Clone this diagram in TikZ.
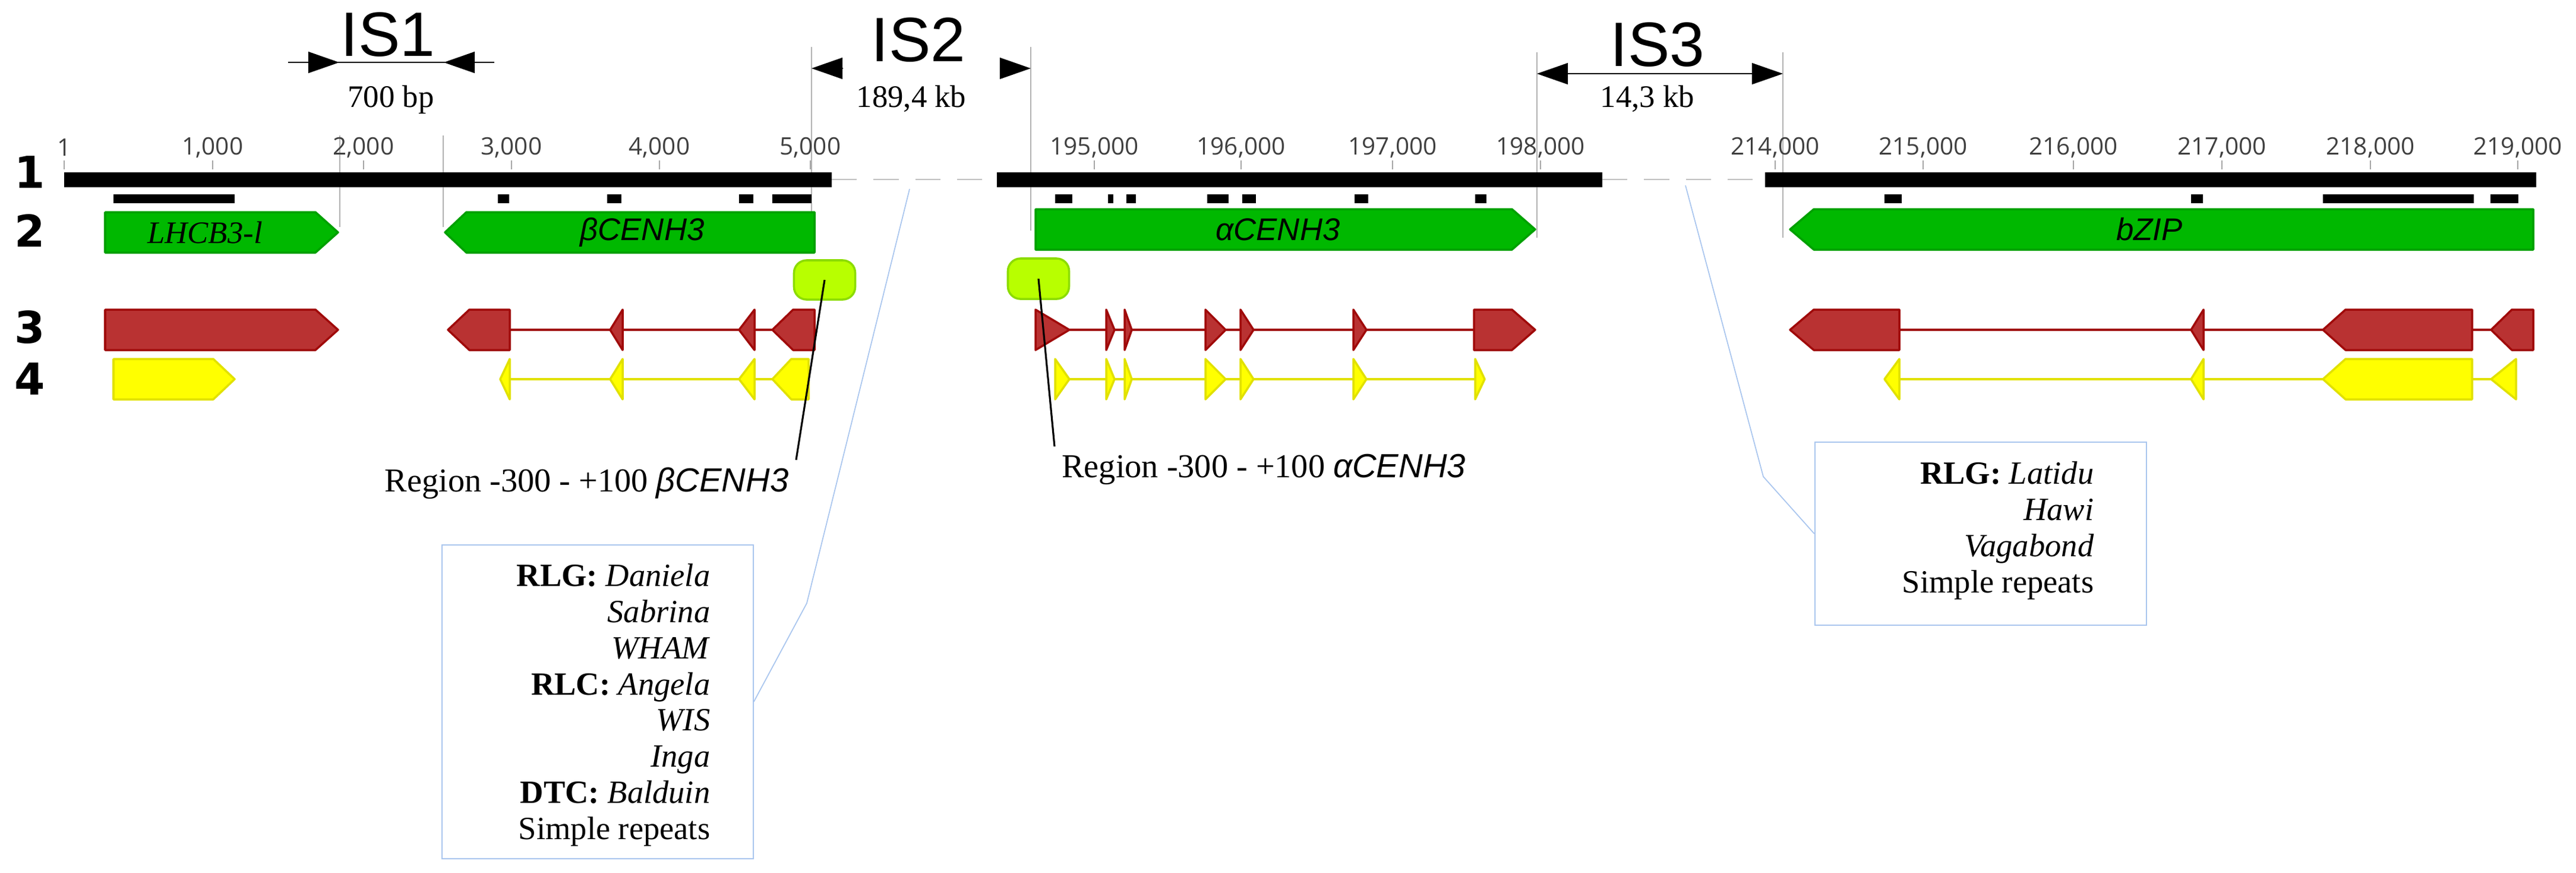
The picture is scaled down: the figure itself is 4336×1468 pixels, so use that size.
\documentclass[tikz,border=0pt]{standalone}
\usepackage{fontspec}
\setmainfont{Liberation Serif}
\setsansfont{Liberation Sans}
\newfontfamily\tickfont{Open Sans}
\newfontfamily\rowfont{DejaVu Sans}
\usetikzlibrary{arrows.meta}

\definecolor{genegreen}{RGB}{0,184,0}
\definecolor{geneedge}{RGB}{0,160,0}
\definecolor{exonred}{RGB}{185,50,50}
\definecolor{exonedge}{RGB}{160,10,10}
\definecolor{cdsyellow}{RGB}{255,255,0}
\definecolor{cdsedge}{RGB}{225,225,0}
\definecolor{promfill}{RGB}{184,255,0}
\definecolor{promedge}{RGB}{140,220,0}
\definecolor{leaderblue}{RGB}{170,198,238}

% feature outline: flat end, shoulder, tip, centre y, style
\newcommand{\feat}[5]{\draw[#5] (#1,#4-34) -- (#2,#4-34) -- (#3,#4) -- (#2,#4+34) -- (#1,#4+34) -- cycle;}

\begin{document}
\begin{tikzpicture}[
    x=0.01cm, y=-0.01cm,
    gene/.style={fill=genegreen, draw=geneedge, line width=1pt, line join=round},
    exon/.style={fill=exonred, draw=exonedge, line width=1pt, line join=round},
    cds/.style={fill=cdsyellow, draw=cdsedge, line width=1pt, line join=round},
    intronred/.style={draw=exonedge, line width=1.3pt},
    intronyel/.style={draw=cdsedge, line width=1.3pt},
    guide/.style={draw=gray!60, line width=0.4pt},
    isarrow/.style={-{Triangle[length=14.8pt,width=10.2pt]}, line width=0.5pt},
    leader/.style={draw=leaderblue, line width=0.5pt},
    infobox/.style={draw=leaderblue, line width=0.6pt, inner sep=0pt},
    infotext/.style={align=right, inner sep=0pt, font=\fontsize{15.5}{17.3}\selectfont},
    genelabel/.style={font=\sffamily\itshape\fontsize{15}{15}\selectfont},
    tick/.style={font=\tickfont\fontsize{11.5}{12}\selectfont, text=black!75},
    rownum/.style={font=\rowfont\bfseries\fontsize{21}{21}\selectfont},
    islabel/.style={font=\sffamily\fontsize{30}{30}\selectfont},
    dist/.style={font=\fontsize{15}{15}\selectfont}
]
    \useasboundingbox (0,0) rectangle (4336,1468);

    % guide lines of the intergenic spaces
    \draw[guide] (572,228) -- (572,382);
    \draw[guide] (746,228) -- (746,382);
    \draw[guide] (1366,79) -- (1366,382);
    \draw[guide] (1735,79) -- (1735,388);
    \draw[guide] (2587,88) -- (2587,400);
    \draw[guide] (3001,88) -- (3001,400);

    % intergenic spaces
    \node[islabel] (is1) at (653,58) {IS1};
    \node[islabel] (is2) at (1546,67) {IS2};
    \node[islabel] (is3) at (2790,75) {IS3};
    \node[dist] (d1) at (658,168) {700 bp};
    \node[dist] (d2) at (1534,166) {189,4 kb};
    \node[dist] (d3) at (2773,166) {14,3 kb};
    \draw[line width=0.5pt] (485,105) -- (832,105);
    \draw[isarrow] (485,105) -- (571,105);
    \draw[isarrow] (832,105) -- (747,105);
    \draw[isarrow] (1419,115) -- (1366,115);
    \draw[isarrow] (1684,115) -- (1735,115);
    \draw[isarrow, {Triangle[length=14.8pt,width=10.2pt]}-{Triangle[length=14.8pt,width=10.2pt]}] (2587,124) -- (3001,124);

    % row numbers
    \node[rownum] (r1) at (50,290) {1};
    \node[rownum] (r2) at (50,388) {2};
    \node[rownum] (r3) at (50,551) {3};
    \node[rownum] (r4) at (50,638) {4};

    % sequence bar and scale
    \draw[gray!50, dash pattern=on 12pt off 8pt, line width=0.8pt] (1400,302) -- (1678,302);
    \draw[gray!50, dash pattern=on 12pt off 8pt, line width=0.8pt] (2697,302) -- (2971,302);
    \fill[black] (108,290) rectangle (1400,315);
    \fill[black] (1678,290) rectangle (2697,315);
    \fill[black] (2971,290) rectangle (4269,315);
    \foreach \x/\lab in {108/1, 358/{1,000}, 612/{2,000}, 861/{3,000}, 1110/{4,000}, 1364/{5,000},
        1842/{195,000}, 2089/{196,000}, 2344/{197,000}, 2593/{198,000},
        2988/{214,000}, 3237/{215,000}, 3490/{216,000}, 3740/{217,000}, 3990/{218,000}, 4238/{219,000}} {
        \draw[gray!70, line width=0.6pt] (\x,270) -- (\x,285);
        \node[tick] (t\x) at (\x,248) {\lab};
    }

    % repeat hits
    \foreach \a/\b in {191/395, 838/857, 1022/1046, 1244/1268, 1300/1366,
        1776/1805, 1865/1874, 1896/1912, 2032/2068, 2091/2114, 2280/2303, 2483/2502,
        3172/3201, 3688/3708, 3910/4164, 4192/4239}
        {\fill[black] (\a,327) rectangle (\b,342);}

    % row 2: genes
    \feat{177}{531}{569}{391}{gene}
    \feat{1371}{785}{749}{391}{gene}
    \feat{1743}{2545}{2584}{386}{gene}
    \feat{4264}{3053}{3013}{386}{gene}
    \node[genelabel, font=\rmfamily\itshape\fontsize{15}{15}\selectfont] (lhcb) at (345,391) {LHCB3-l};
    \node[genelabel] (bcen) at (1081,391) {βCENH3};
    \node[genelabel] (acen) at (2151,386) {αCENH3};
    \node[genelabel] (bzip) at (3618,386) {bZIP};

    % promoter regions
    \node[fill=promfill, draw=promedge, line width=1pt, rounded corners=6pt,
        minimum width=1.03cm, minimum height=0.66cm] (promB) at (1388,471) {};
    \node[fill=promfill, draw=promedge, line width=1pt, rounded corners=6pt,
        minimum width=1.03cm, minimum height=0.68cm] (promA) at (1748,469) {};

    % row 3: exons
    \draw[intronred] (858,555) -- (1300,555);
    \draw[intronred] (1800,555) -- (2481,555);
    \draw[intronred] (3197,555) -- (4193,555);
    \feat{177}{531}{569}{555}{exon}
    \feat{858}{790}{754}{555}{exon}
    \feat{1048}{1048}{1027}{555}{exon}
    \feat{1270}{1270}{1244}{555}{exon}
    \feat{1371}{1335}{1300}{555}{exon}
    \feat{1743}{1743}{1800}{555}{exon}
    \foreach \a/\b in {1862/1876, 1893/1905, 2029/2063, 2088/2110, 2278/2300}
        {\feat{\a}{\a}{\b}{555}{exon}}
    \feat{2481}{2545}{2584}{555}{exon}
    \feat{3197}{3053}{3013}{555}{exon}
    \feat{3709}{3709}{3688}{555}{exon}
    \feat{4161}{3948}{3910}{555}{exon}
    \feat{4264}{4228}{4193}{555}{exon}

    % row 4: coding sequences
    \draw[intronyel] (858,638) -- (1300,638);
    \draw[intronyel] (1776,638) -- (2499,638);
    \draw[intronyel] (3197,638) -- (4235,638);
    \feat{191}{359}{395}{638}{cds}
    \feat{858}{858}{842}{638}{cds}
    \feat{1048}{1048}{1027}{638}{cds}
    \feat{1270}{1270}{1244}{638}{cds}
    \feat{1361}{1332}{1300}{638}{cds}
    \foreach \a/\b in {1776/1800, 1862/1876, 1893/1905, 2029/2063, 2088/2110, 2278/2300, 2483/2499}
        {\feat{\a}{\a}{\b}{638}{cds}}
    \feat{3197}{3197}{3172}{638}{cds}
    \feat{3709}{3709}{3688}{638}{cds}
    \feat{4161}{3948}{3910}{638}{cds}
    \feat{4235}{4235}{4193}{638}{cds}

    % promoter callouts
    \node[anchor=base east, font=\fontsize{16}{16}\selectfont] (regB) at (1340,827)
        {Region -300 - +100 {\sffamily\itshape βCENH3}};
    \node[anchor=base west, font=\fontsize{16}{16}\selectfont] (regA) at (1775,803)
        {Region -300 - +100 {\sffamily\itshape αCENH3}};
    \draw[line width=0.9pt] (promB.center) -- (regB.north east);
    \draw[line width=0.9pt] (promA.center) -- (regA.north west);

    % transposable element boxes
    \node[infobox, minimum width=5.23cm, minimum height=5.27cm] (te2) at (1006,1181) {};
    \node[infotext, anchor=north east] (te2txt) at (1196,948)
        {\textbf{RLG:} \textit{Daniela}\\ \textit{Sabrina}\\ \textit{WHAM}\hspace{0.2cm}\\
         \textbf{RLC:} \textit{Angela}\\ \textit{WIS}\hspace{0.12cm}\\ \textit{Inga}\\
         \textbf{DTC:} \textit{Balduin}\\ Simple repeats};
    \node[infobox, minimum width=5.58cm, minimum height=3.07cm] (te3) at (3334,898) {};
    \node[infotext, anchor=north east] (te3txt) at (3525,776)
        {\textbf{RLG:} \textit{Latidu}\\ \textit{Hawi}\\ \textit{Vagabond}\\ Simple repeats};
    \coordinate (te2src) at (1531,318);
    \coordinate (te3src) at (2837,312);
    \draw[leader] (te2src) -- (1358,1015) -- (te2.east);
    \draw[leader] (te3src) -- (2968,802) -- (te3.west);
\end{tikzpicture}
\end{document}
